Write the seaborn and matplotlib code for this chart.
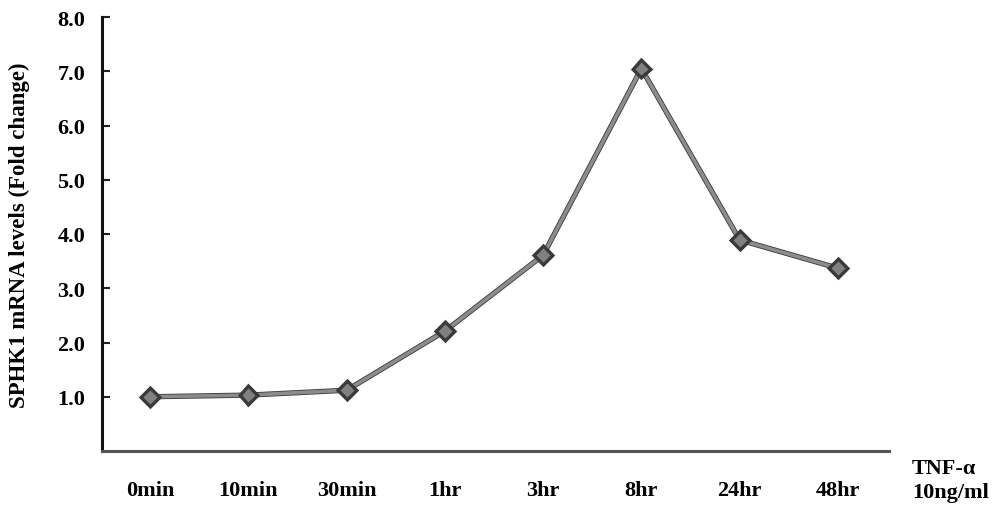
import matplotlib
matplotlib.use("Agg")
import matplotlib.pyplot as plt
import matplotlib.patheffects as pe
import seaborn as sns
import pandas as pd

timepoints = ["0min", "10min", "30min", "1hr", "3hr", "8hr", "24hr", "48hr"]
fold_change = [1.0, 1.03, 1.12, 2.21, 3.61, 7.05, 3.89, 3.37]
y_ticks = [1, 2, 3, 4, 5, 6, 7, 8]
y_tick_labels = ["1.0", "2.0", "3.0", "4.0", "5.0", "6.0", "7.0", "8.0"]

df = pd.DataFrame({"pos": range(len(timepoints)), "time": timepoints, "fold": fold_change})

sns.set_style("ticks")
plt.rcParams["font.family"] = ["Liberation Serif", "DejaVu Serif"]
plt.rcParams["font.weight"] = "bold"
plt.rcParams["text.color"] = "black"
plt.rcParams["axes.labelcolor"] = "black"
plt.rcParams["xtick.color"] = "black"
plt.rcParams["ytick.color"] = "black"

fig = plt.figure(figsize=(9.94, 5.10), dpi=100)
ax = fig.add_axes([102/994, 1-452/510, (889-102)/994, (452-18)/510])

sns.lineplot(data=df, x="pos", y="fold", ax=ax, color="#8c8c8c", linewidth=2.6,
             marker="D", markersize=8, markerfacecolor="#808080",
             markeredgecolor="#3a3a3a", markeredgewidth=1.0,
             path_effects=[pe.Stroke(linewidth=3.8, foreground="#3a3a3a"), pe.Normal()])

ax.set_xlim(-0.49, 7.52)
ax.set_ylim(0, 8)
ax.set_yticks(y_ticks)
ax.set_yticklabels(y_tick_labels, fontsize=16, fontweight="bold", color="black")
ax.set_xticks(range(len(timepoints)))
ax.set_xticklabels(timepoints, fontsize=16, fontweight="bold", color="black")
ax.tick_params(axis="y", direction="in", length=6, width=1.5, pad=12, color="#222222")
ax.tick_params(axis="x", length=0, pad=21)
ax.set_xlabel("")
ax.set_ylabel("SPHK1 mRNA levels (Fold change)", fontsize=16.5, fontweight="bold",
              labelpad=20, color="black")

for s in ["top", "right"]:
    ax.spines[s].set_visible(False)
ax.spines["left"].set_linewidth(2.2)
ax.spines["left"].set_color("#111111")
ax.spines["bottom"].set_linewidth(2.2)
ax.spines["bottom"].set_color("#555555")

fig.text(912/994, 1-469/510, "TNF-α", fontsize=16, fontweight="bold", va="center", ha="left", color="black")
fig.text(912/994, 1-493/510, "10ng/ml", fontsize=16, fontweight="bold", va="center", ha="left", color="black")

fig.savefig("out.png", dpi=100, facecolor="white")
